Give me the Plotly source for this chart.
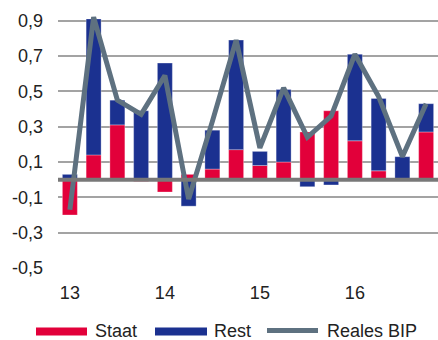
import plotly.graph_objects as go

# Quarterly growth contributions (percentage points), 2013–2016
quarters = [f"{y}-Q{q}" for y in ("13", "14", "15", "16") for q in (1, 2, 3, 4)]
staat = [-0.20, 0.14, 0.31, -0.01, -0.07, 0.03, 0.06, 0.17,
         0.08, 0.10, 0.27, 0.39, 0.22, 0.05, 0.00, 0.27]
rest = [0.03, 0.77, 0.14, 0.39, 0.66, -0.15, 0.22, 0.62,
        0.08, 0.41, -0.04, -0.03, 0.49, 0.41, 0.13, 0.16]
reales_bip = [-0.17, 0.92, 0.45, 0.37, 0.59, -0.11, 0.33, 0.79,
              0.18, 0.52, 0.24, 0.36, 0.71, 0.47, 0.13, 0.43]
year_ticks = ["13-Q1", "14-Q1", "15-Q1", "16-Q1"]
year_labels = ["13", "14", "15", "16"]
y_ticks = [-0.5, -0.3, -0.1, 0.1, 0.3, 0.5, 0.7, 0.9]

RED = "#e2003a"
BLUE = "#1b3190"
GREY_LINE = "#5e7180"
FONT = "Liberation Sans, Arial, sans-serif"

fig = go.Figure()
fig.add_trace(go.Bar(x=quarters, y=staat, name="Staat", marker_color=RED,
                     marker_line=dict(color="rgba(255,255,255,0.5)", width=0.6)))
fig.add_trace(go.Bar(x=quarters, y=rest, name="Rest", marker_color=BLUE,
                     marker_line=dict(color="rgba(255,255,255,0.5)", width=0.6)))
fig.add_trace(go.Scatter(x=quarters, y=reales_bip, name="Reales BIP", mode="lines",
                         line=dict(color=GREY_LINE, width=5),
                         cliponaxis=False))

# zero line, drawn over the bars
fig.add_shape(type="line", xref="paper", yref="y", x0=0, x1=1, y0=0, y1=0,
              line=dict(color="#787878", width=4), layer="above")

# hand-made legend below the plot
ly = -0.2396
hh = 0.0151
def px(v):
    return (v - 58) / 380

fig.add_shape(type="rect", xref="paper", yref="paper", x0=px(36), x1=px(87),
              y0=ly - hh, y1=ly + hh, fillcolor=RED, line_width=0)
fig.add_shape(type="rect", xref="paper", yref="paper", x0=px(155), x1=px(207),
              y0=ly - hh, y1=ly + hh, fillcolor=BLUE, line_width=0)
fig.add_shape(type="line", xref="paper", yref="paper", x0=px(267), x1=px(318),
              y0=ly + 0.004, y1=ly + 0.004, line=dict(color=GREY_LINE, width=5, ))
for x, txt in ((93, "Staat"), (212, "Rest"), (325, "Reales BIP")):
    fig.add_annotation(x=px(x), y=ly, xref="paper", yref="paper", text=txt,
                       showarrow=False, xanchor="left", yanchor="middle",
                       font=dict(family=FONT, size=18, color="#222222"))

fig.update_layout(
    width=438, height=340,
    margin=dict(l=58, r=0, t=3, b=72),
    barmode="relative", bargap=0.37,
    showlegend=False,
    plot_bgcolor="white", paper_bgcolor="white",
    font=dict(family=FONT, size=18, color="#222222"),
)
fig.update_xaxes(type="category", tickvals=year_ticks, ticktext=year_labels,
                 showgrid=False, showline=False, ticks="", ticklabelstandoff=12)
fig.update_yaxes(range=[-0.5, 1.0], tickvals=y_ticks,
                 ticktext=[f"{v:.1f}".replace(".", ",") for v in y_ticks],
                 showgrid=True, gridcolor="#a3a3a3", gridwidth=1.5,
                 zeroline=False, showline=False, ticks="", ticklabelstandoff=14)

fig.write_html("out.html")
